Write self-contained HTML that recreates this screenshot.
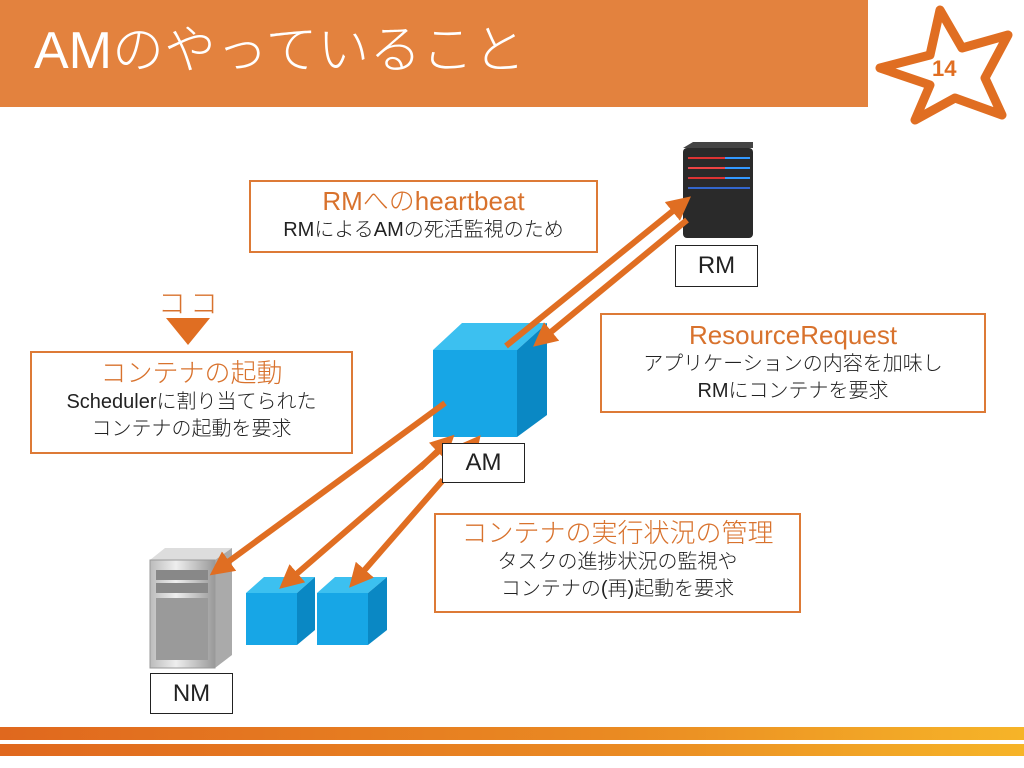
<!DOCTYPE html>
<html><head><meta charset="utf-8"><style>
body{margin:0;width:1024px;height:768px;overflow:hidden;background:#fff;position:relative;font-family:"Liberation Sans","Noto Sans CJK JP",sans-serif}
.box{position:absolute;border:2px solid #dd7a36;box-sizing:border-box;text-align:center;background:#fff}
.t{color:#d8722d;font-size:26px;line-height:32px;font-weight:300}
.s{color:#222;font-size:20px;line-height:27px;font-weight:300}
.lbl{position:absolute;border:1.5px solid #222;box-sizing:border-box;text-align:center;font-size:24px;color:#222;background:#fff}
</style></head><body>
<div style="position:absolute;left:0;top:0;width:868px;height:107px;background:#e3823e"></div>
<div style="position:absolute;left:34px;top:18px;font-size:52px;color:#fff;line-height:66px;font-weight:300">AMのやっていること</div>

<svg width="1024" height="768" style="position:absolute;left:0;top:0">
<defs>
<linearGradient id="g" x1="0" x2="1"><stop offset="0" stop-color="#e0681e"/><stop offset="0.6" stop-color="#ea8a22"/><stop offset="1" stop-color="#f6b428"/></linearGradient>
<marker id="a" markerWidth="4" markerHeight="4" refX="2.5" refY="2" orient="auto" markerUnits="strokeWidth"><path d="M0,0 L4,2 L0,4 z" fill="#e06e22"/></marker>
<linearGradient id="srv" x1="0" x2="1"><stop offset="0" stop-color="#bbb"/><stop offset="0.4" stop-color="#eee"/><stop offset="1" stop-color="#999"/></linearGradient>
</defs>
<polygon points="940,10 962,48 1008,35 985,78 1002,115 955,98 915,120 930,85 880,68 930,55" fill="none" stroke="#e06e22" stroke-width="9" stroke-linejoin="round"/>
<text x="932" y="76" font-family="Liberation Sans" font-weight="bold" font-size="22" fill="#e06e22">14</text>
<rect x="0" y="727" width="1024" height="13" fill="url(#g)"/>
<rect x="0" y="744" width="1024" height="12" fill="url(#g)"/>
<rect x="683" y="148" width="70" height="90" rx="4" fill="#2a2a2a"/>
<polygon points="683,148 693,142 753,142 753,148" fill="#444"/>
<g stroke-width="2"><line x1="688" y1="158" x2="750" y2="158" stroke="#d33"/><line x1="688" y1="168" x2="750" y2="168" stroke="#e44"/><line x1="688" y1="178" x2="750" y2="178" stroke="#d33"/><line x1="688" y1="188" x2="750" y2="188" stroke="#36c"/><line x1="725" y1="158" x2="750" y2="158" stroke="#39f"/><line x1="725" y1="168" x2="750" y2="168" stroke="#39f"/><line x1="725" y1="178" x2="750" y2="178" stroke="#39f"/></g>
<polygon points="150,560 165,548 232,548 215,560" fill="#ddd"/>
<polygon points="215,560 232,548 232,655 215,668" fill="#aaa"/>
<rect x="150" y="560" width="65" height="108" fill="url(#srv)" stroke="#999"/>
<rect x="156" y="570" width="52" height="10" fill="#888"/><rect x="156" y="583" width="52" height="10" fill="#888"/>
<rect x="156" y="598" width="52" height="62" fill="#9a9a9a"/>
<polygon points="433,350 462,323 547,323 517,350" fill="#3cc0f0"/>
<polygon points="517,350 547,323 547,415 517,437" fill="#0a88c4"/>
<rect x="433" y="350" width="84" height="87" fill="#17a6e6"/>
<polygon points="246,593 264,577 315,577 297,593" fill="#3cc0f0"/>
<polygon points="297,593 315,577 315,630 297,645" fill="#0a88c4"/>
<rect x="246" y="593" width="51" height="52" fill="#17a6e6"/>
<polygon points="317,593 335,577 387,577 368,593" fill="#3cc0f0"/>
<polygon points="368,593 387,577 387,630 368,645" fill="#0a88c4"/>
<rect x="317" y="593" width="51" height="52" fill="#17a6e6"/>
<g stroke="#e06e22" stroke-width="6" fill="none">
<line x1="506" y1="346" x2="684" y2="202" marker-end="url(#a)"/>
<line x1="687" y1="220" x2="540" y2="341" marker-end="url(#a)"/>
<line x1="445" y1="403" x2="217" y2="570" marker-end="url(#a)"/>
<line x1="440" y1="450" x2="286" y2="583" marker-end="url(#a)"/>
<line x1="420" y1="468" x2="448" y2="441" marker-end="url(#a)"/>
<line x1="443" y1="480" x2="355" y2="581" marker-end="url(#a)"/>
<line x1="470" y1="448" x2="475" y2="442" marker-end="url(#a)"/>
</g>
<polygon points="166,318 210,318 188,345" fill="#e06e22"/>
</svg>

<div class="lbl" style="left:675px;top:245px;width:83px;height:42px;line-height:40px">RM</div>
<div class="lbl" style="left:442px;top:443px;width:83px;height:40px;line-height:38px">AM</div>
<div class="lbl" style="left:150px;top:673px;width:83px;height:41px;line-height:39px">NM</div>

<div style="position:absolute;left:158px;top:282px;font-size:28px;color:#d8722d;letter-spacing:4px;font-weight:300">ココ</div>

<div class="box" style="left:249px;top:180px;width:349px;height:73px;padding-top:3px"><div class="t">RMへのheartbeat</div><div class="s">RMによるAMの死活監視のため</div></div>
<div class="box" style="left:600px;top:313px;width:386px;height:100px;padding-top:4px"><div class="t">ResourceRequest</div><div class="s">アプリケーションの内容を加味し<br>RMにコンテナを要求</div></div>
<div class="box" style="left:30px;top:351px;width:323px;height:103px;padding-top:4px"><div class="t">コンテナの起動</div><div class="s">Schedulerに割り当てられた<br>コンテナの起動を要求</div></div>
<div class="box" style="left:434px;top:513px;width:367px;height:100px;padding-top:2px"><div class="t">コンテナの実行状況の管理</div><div class="s">タスクの進捗状況の監視や<br>コンテナの(再)起動を要求</div></div>
</body></html>
